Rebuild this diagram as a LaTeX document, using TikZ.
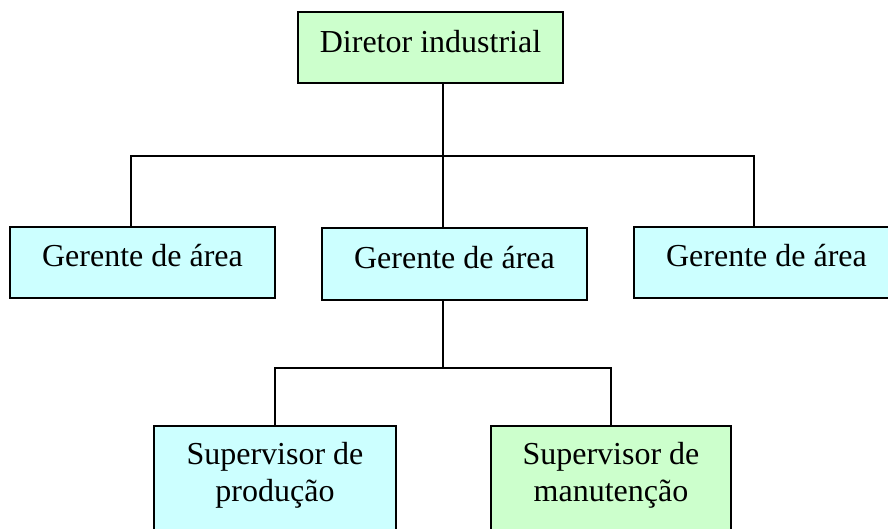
\documentclass[tikz,border=0pt]{standalone}
\usepackage{fontspec}
\setmainfont{Liberation Serif}
\definecolor{boxgreen}{HTML}{CCFFCC}
\definecolor{boxcyan}{HTML}{CCFFFF}
\begin{document}
\begin{tikzpicture}[x=1pt,y=-1pt,
  box/.style={draw=black, line width=1.5pt, rectangle, inner sep=0pt,
    font=\fontsize{32}{37}\selectfont, align=center},
  one/.style={box, minimum width=265pt, text height=22pt, text depth=14pt},
  two/.style={box, minimum height=106pt, anchor=north, text depth=13pt},
  link/.style={line width=1.5pt, draw=black}]
\useasboundingbox (0,0) rectangle (888,528);
\node[one, fill=boxgreen, minimum height=71pt, text depth=12pt] (dir) at (430.5,47.5) {Diretor industrial};
\node[one, fill=boxcyan, minimum height=71pt] (g1) at (142.5,262.5) {Gerente de área};
\node[one, fill=boxcyan, minimum height=72pt] (g2) at (454.5,264) {Gerente de área};
\node[one, fill=boxcyan, minimum height=71pt] (g3) at (766.5,262.5) {Gerente de área};
\node[two, fill=boxcyan, minimum width=242pt] (s1) at (275,425) {Supervisor de\\produção};
\node[two, fill=boxgreen, minimum width=240pt] (s2) at (611,425) {Supervisor de\\manutenção};
\coordinate (j1) at (443,156);
\coordinate (j2) at (443,368);
\draw[link] ([xshift=12.5pt]dir.south) -- (j1);
\draw[link] ([xshift=-11.5pt]g1.north) |- (j1) -| ([xshift=-12.5pt]g3.north);
\draw[link] (j1) -- ([xshift=-11.5pt]g2.north);
\draw[link] ([xshift=-11.5pt]g2.south) -- (j2);
\draw[link] (s1.north) |- (j2) -| (s2.north);
\end{tikzpicture}
\end{document}
